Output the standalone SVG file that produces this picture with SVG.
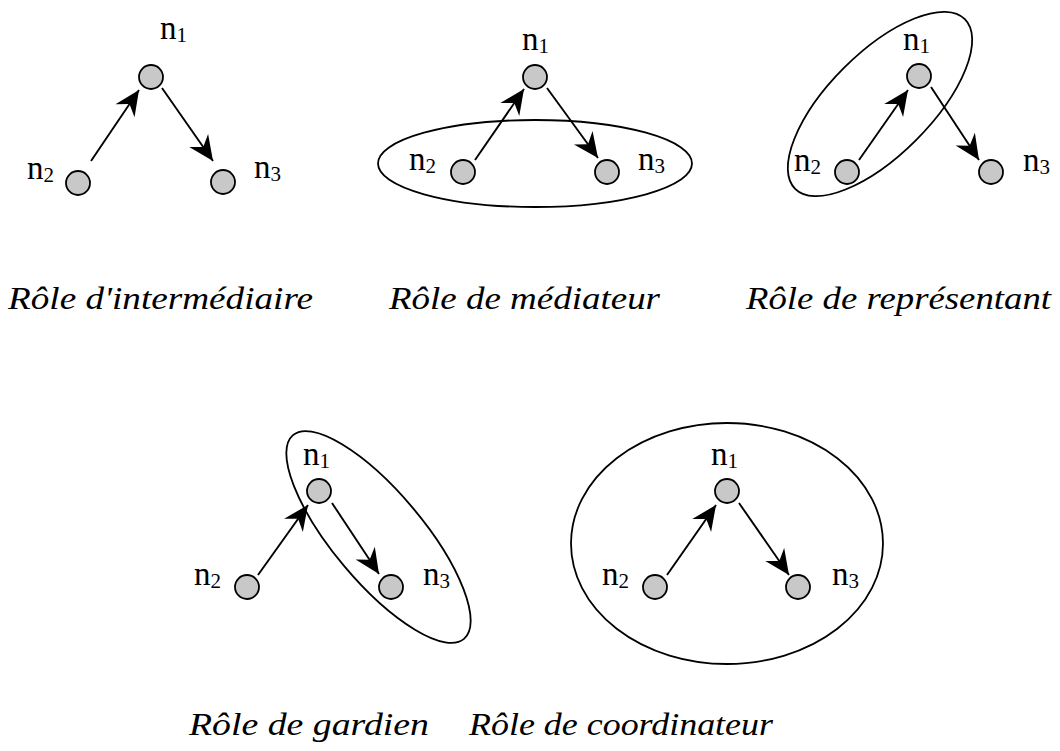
<svg xmlns="http://www.w3.org/2000/svg" width="1060" height="751" viewBox="0 0 1060 751">
<style>
.nd{fill:#c8c8c8;stroke:#000;stroke-width:1.8}
.el{fill:none;stroke:#000;stroke-width:1.8}
.ed{stroke:#000;stroke-width:1.9;fill:none;marker-end:url(#ah)}
.lb{font-family:'Liberation Serif',serif;font-size:33px;fill:#000}
.sb{font-size:21px}
.cap{font-family:'Liberation Serif',serif;font-style:italic;font-size:32px;fill:#000}
</style>
<defs>
<marker id="ah" viewBox="-28 -14 29 28" refX="0" refY="0" markerWidth="29" markerHeight="28" markerUnits="userSpaceOnUse" orient="auto">
<path d="M0,0 L-25,-11.5 L-17,0 L-25,11.5 Z" fill="#000"/>
</marker>
</defs>
<rect width="1060" height="751" fill="#fff"/>

<g id="connectors">
<line class="ed" x1="91" y1="161" x2="139" y2="90"/>
<line class="ed" x1="162" y1="88" x2="213" y2="161"/>
<line class="ed" x1="475" y1="160" x2="524" y2="89"/>
<line class="ed" x1="547" y1="88" x2="598" y2="158"/>
<line class="ed" x1="859" y1="160" x2="908" y2="90"/>
<line class="ed" x1="931" y1="87" x2="979" y2="160"/>
<line class="ed" x1="258" y1="575" x2="308" y2="505"/>
<line class="ed" x1="332" y1="503" x2="379" y2="574"/>
<line class="ed" x1="667" y1="575" x2="716" y2="505"/>
<line class="ed" x1="739" y1="503" x2="789" y2="575"/>
</g>

<g id="groups">
<ellipse id="grp-mediateur" class="el" cx="535" cy="163.5" rx="157" ry="43.5"/>
<ellipse id="grp-representant" class="el" cx="880" cy="104" rx="120" ry="51" transform="rotate(-45 880 104)"/>
<ellipse id="grp-gardien" class="el" cx="378.5" cy="537" rx="133" ry="45" transform="rotate(50 378.5 537)"/>
<ellipse id="grp-coordinateur" class="el" cx="727" cy="543.5" rx="156" ry="120.5"/>
</g>

<g id="p1-n1"><circle class="nd" cx="151" cy="77" r="12"/><text class="lb" x="160" y="39">n<tspan class="sb" dy="3">1</tspan></text></g>
<g id="p1-n2"><circle class="nd" cx="78" cy="183" r="12"/><text class="lb" x="27" y="179">n<tspan class="sb" dy="3">2</tspan></text></g>
<g id="p1-n3"><circle class="nd" cx="223" cy="182" r="12"/><text class="lb" x="254" y="178">n<tspan class="sb" dy="3">3</tspan></text></g>

<g id="p2-n1"><circle class="nd" cx="535" cy="77" r="12"/><text class="lb" x="522" y="50">n<tspan class="sb" dy="3">1</tspan></text></g>
<g id="p2-n2"><circle class="nd" cx="463" cy="172" r="12"/><text class="lb" x="409" y="170">n<tspan class="sb" dy="3">2</tspan></text></g>
<g id="p2-n3"><circle class="nd" cx="607" cy="172" r="12"/><text class="lb" x="638" y="170">n<tspan class="sb" dy="3">3</tspan></text></g>

<g id="p3-n1"><circle class="nd" cx="919" cy="76" r="12"/><text class="lb" x="903" y="50">n<tspan class="sb" dy="3">1</tspan></text></g>
<g id="p3-n2"><circle class="nd" cx="847" cy="172" r="12"/><text class="lb" x="794" y="171">n<tspan class="sb" dy="3">2</tspan></text></g>
<g id="p3-n3"><circle class="nd" cx="991" cy="172" r="12"/><text class="lb" x="1023" y="171">n<tspan class="sb" dy="3">3</tspan></text></g>

<g id="p4-n1"><circle class="nd" cx="319" cy="491" r="12"/><text class="lb" x="303" y="465">n<tspan class="sb" dy="3">1</tspan></text></g>
<g id="p4-n2"><circle class="nd" cx="247" cy="587" r="12"/><text class="lb" x="194" y="585">n<tspan class="sb" dy="3">2</tspan></text></g>
<g id="p4-n3"><circle class="nd" cx="391" cy="587" r="12"/><text class="lb" x="423" y="585">n<tspan class="sb" dy="3">3</tspan></text></g>

<g id="p5-n1"><circle class="nd" cx="727" cy="491" r="12"/><text class="lb" x="711" y="465">n<tspan class="sb" dy="3">1</tspan></text></g>
<g id="p5-n2"><circle class="nd" cx="655" cy="587" r="12"/><text class="lb" x="602" y="585">n<tspan class="sb" dy="3">2</tspan></text></g>
<g id="p5-n3"><circle class="nd" cx="798" cy="587" r="12"/><text class="lb" x="832" y="585">n<tspan class="sb" dy="3">3</tspan></text></g>

<g id="captions">
<text class="cap" x="8" y="309" textLength="305" lengthAdjust="spacingAndGlyphs">Rôle d'intermédiaire</text>
<text class="cap" x="389" y="309" textLength="271" lengthAdjust="spacingAndGlyphs">Rôle de médiateur</text>
<text class="cap" x="746" y="309" textLength="305" lengthAdjust="spacingAndGlyphs">Rôle de représentant</text>
<text class="cap" x="189" y="735" textLength="240" lengthAdjust="spacingAndGlyphs">Rôle de gardien</text>
<text class="cap" x="469" y="735" textLength="304" lengthAdjust="spacingAndGlyphs">Rôle de coordinateur</text>
</g>
</svg>
